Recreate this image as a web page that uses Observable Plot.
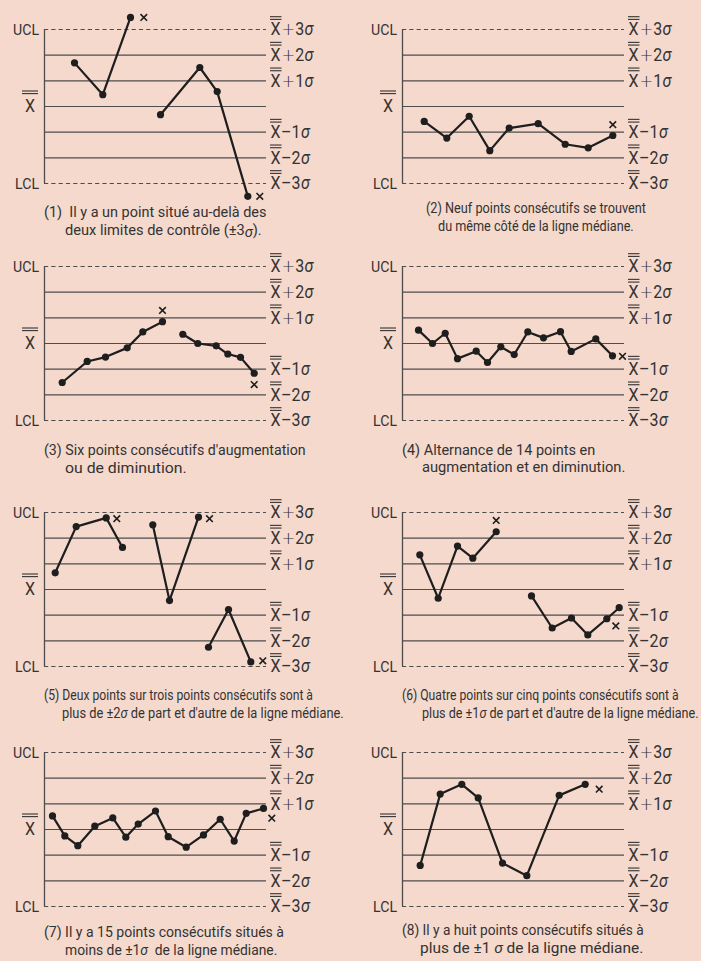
<!DOCTYPE html>
<html><head><meta charset="utf-8">
<script src="https://cdn.jsdelivr.net/npm/d3@7"></script>
<script src="https://cdn.jsdelivr.net/npm/@observablehq/plot@0.6"></script>
<style>
html,body{margin:0;padding:0;background:#f5d9cc;}
#wrap{position:relative;width:701px;height:961px;overflow:hidden;background:#f5d9cc;font-family:Roboto,"Liberation Sans",sans-serif;color:#333;}
.panel{position:absolute;}
.cap{position:absolute;white-space:nowrap;color:#333;line-height:18px;transform-origin:0 0;}
.cap i{font-style:italic;}
.cap .lo{position:relative;top:2px;}
</style></head><body><div id="wrap"></div>
<script>
// ---- data (x = position along the sample axis, y = value in sigma units) ----
const p1x = [30, 58.3, 86, 116, 155.3, 172.7, 203.3];
const p1y = [1.70, 0.46, 3.47, -0.32, 1.52, 0.58, -3.50];
const p1seg = [0, 0, 0, 1, 1, 1, 1];
const p1crossX = [99.3, 215.3];
const p1crossY = [3.47, -3.50];

const p2x = [21.7, 44.3, 66.7, 87.3, 106.7, 135.7, 162.7, 185.7, 210.3];
const p2y = [-0.58, -1.23, -0.38, -1.72, -0.84, -0.67, -1.47, -1.61, -1.13];
const p2seg = [0, 0, 0, 0, 0, 0, 0, 0, 0];
const p2crossX = [210.3];
const p2crossY = [-0.71];

const p3x = [17.7, 42.7, 61, 82.7, 98.3, 118, 138.3, 153.3, 171.7, 183.3, 196, 209.7];
const p3y = [-1.52, -0.70, -0.53, -0.17, 0.45, 0.85, 0.36, 0, -0.09, -0.41, -0.54, -1.16];
const p3seg = [0, 0, 0, 0, 0, 0, 1, 1, 1, 1, 1, 1];
const p3crossX = [118, 209.7];
const p3crossY = [1.29, -1.60];

const p4x = [16, 30, 42.7, 55, 73.7, 85, 98.3, 111.7, 125.3, 141, 158, 168.7, 193.3, 210];
const p4y = [0.52, 0, 0.40, -0.59, -0.30, -0.74, -0.13, -0.43, 0.45, 0.22, 0.46, -0.31, 0.18, -0.48];
const p4seg = [0, 0, 0, 0, 0, 0, 0, 0, 0, 0, 0, 0, 0, 0];
const p4crossX = [220];
const p4crossY = [-0.50];

const p5x = [10.7, 31.7, 61.7, 78, 108.3, 125, 154, 164, 184, 206.3];
const p5y = [0.65, 2.45, 2.79, 1.64, 2.52, -0.43, 2.82, -2.25, -0.78, -2.82];
const p5seg = [0, 0, 0, 0, 1, 1, 1, 2, 2, 2];
const p5crossX = [72.3, 165, 218.3];
const p5crossY = [2.76, 2.76, -2.78];

const p6x = [17.3, 35.7, 55, 70.3, 93.7, 129, 149.7, 169, 185.3, 204.3, 216.7];
const p6y = [1.35, -0.34, 1.69, 1.22, 2.25, -0.25, -1.50, -1.11, -1.77, -1.14, -0.71];
const p6seg = [0, 0, 0, 0, 0, 1, 1, 1, 1, 1, 1];
const p6crossX = [93.7, 213.3];
const p6crossY = [2.69, -1.42];

const p7x = [8, 20.3, 33.3, 50.3, 68.3, 81.3, 93.7, 111, 123.7, 141.7, 159, 175.7, 189.7, 201.7, 219];
const p7y = [0.53, -0.25, -0.63, 0.13, 0.45, -0.30, 0.21, 0.72, -0.28, -0.69, -0.21, 0.40, -0.45, 0.63, 0.82];
const p7seg = [0, 0, 0, 0, 0, 0, 0, 0, 0, 0, 0, 0, 0, 0, 0];
const p7crossX = [227.3];
const p7crossY = [0.44];

const p8x = [17.7, 37.7, 59.3, 75.7, 100, 124.3, 156.7, 182.7];
const p8y = [-1.40, 1.38, 1.76, 1.23, -1.31, -1.80, 1.33, 1.76];
const p8seg = [0, 0, 0, 0, 0, 0, 0, 0];
const p8crossX = [196.7];
const p8crossY = [1.57];

// control-limit levels (sigma units) and their labels
const limitLevels = [3, -3];
const gridLevels = [2, 1, 0, -1, -2];
const rightLevels = [3, 2, 1, -1, -2, -3];
const rightSigns = ["+", "+", "+", "\u2013", "\u2013", "\u2013"];
const rightNums = ["3", "2", "1", "1", "2", "3"];
const leftLabels = ["UCL", "LCL"];
const leftLevels = [3, -3];

const captions = [
  ["(1)\u00a0 Il y a un point situé au-delà des", "deux limites de contrôle (±3<i class='lo'>σ</i>)."],
  ["(2) Neuf points consécutifs se trouvent", "du même côté de la ligne médiane."],
  ["(3) Six points consécutifs d'augmentation", "ou de diminution."],
  ["(4) Alternance de 14 points en", "augmentation et en diminution."],
  ["(5) Deux points sur trois points consécutifs sont à", "plus de ±2<i>σ</i> de part et d'autre de la ligne médiane."],
  ["(6) Quatre points sur cinq points consécutifs sont à", "plus de ±1<i>σ</i> de part et d'autre de la ligne médiane."],
  ["(7) Il y a 15 points consécutifs situés à", "moins de ±1<i>σ</i>\u00a0 de la ligne médiane."],
  ["(8) Il y a huit points consécutifs situés à", "plus de ±1\u00a0<i>σ</i> de la ligne médiane."]
];

// ---- layout ----
const rowUCL = [29, 266.3, 512, 752];
const capBase = [[217, 235.5, 213, 231], [455, 473, 455, 472.5], [700, 718.5, 700, 718.5], [937.5, 955, 935, 953.5]];
const capLeft = [[44.3, 65, 426, 438.3], [44.3, 65, 401.7, 421.7], [44.3, 61.7, 401.7, 421.7], [44.3, 65, 401.7, 420]];
const capWidth = [[222.4, 196.7], [220, 195.7], [261.7, 121.7], [193.3, 203.3], [269, 281.7], [276.7, 276.5], [240, 212.3], [241.7, 223.3]];
const capSize = [15.5, 15.5, 15.5, 15.5, 15, 15, 15.5, 15.5];

const panels = [
  [p1x, p1y, p1seg, p1crossX, p1crossY],
  [p2x, p2y, p2seg, p2crossX, p2crossY],
  [p3x, p3y, p3seg, p3crossX, p3crossY],
  [p4x, p4y, p4seg, p4crossX, p4crossY],
  [p5x, p5y, p5seg, p5crossX, p5crossY],
  [p6x, p6y, p6seg, p6crossX, p6crossY],
  [p7x, p7y, p7seg, p7crossX, p7crossY],
  [p8x, p8y, p8seg, p8crossX, p8crossY]
];

const INK = "#1e1e1e";
const GRID = "#4d4d4d";
const FONT = "Roboto,'Liberation Sans',sans-serif";
const mTop = 22, plotH = 154, mBottom = 22;

// measure a text width to derive a condensing factor (reference face is a condensed sans)
function measure(html, size) {
  const s = document.createElement("span");
  s.style.cssText = `position:absolute;visibility:hidden;white-space:nowrap;font-family:${FONT};font-size:${size}px`;
  s.innerHTML = html;
  document.body.appendChild(s);
  const w = s.getBoundingClientRect().width;
  s.remove();
  return w;
}
const lblScale = Math.min(1, 26 / measure("UCL", 15.5));

function labelsMark(index, scales, values, dims) {
  const g = d3.create("svg:g").attr("fill", "#333").attr("text-anchor", "start");
  const xr = dims.width - dims.marginRight + 4;
  const xl = dims.marginLeft;
  rightLevels.forEach((lv, i) => {
    const y0 = scales.y(lv);
    const t = g.append("text").attr("transform", `translate(${xr + 0.5},${y0 + 6.3}) scale(${lblScale},1)`)
      .attr("font-family", FONT).attr("font-size", 17.5).attr("text-anchor", "start");
    t.append("tspan").text("X");
    const plus = rightSigns[i] === "+";
    t.append("tspan").attr("font-family", plus ? "'DejaVu Sans',sans-serif" : FONT)
      .attr("font-weight", plus ? 200 : 400)
      .attr("font-size", plus ? 18 : 17.5).attr("dx", plus ? 1 : 0.5).text(rightSigns[i]);
    t.append("tspan").text(rightNums[i]);
    t.append("tspan").attr("font-style", "italic").attr("font-size", 17.5).attr("dx", 0.5).text("\u03c3");
    for (const dy of [-12.3, -9.6]) {
      g.append("line").attr("x1", xr).attr("x2", xr + 11.5).attr("y1", y0 + dy).attr("y2", y0 + dy)
        .attr("stroke", "#333").attr("stroke-width", 1.1);
    }
  });
  leftLevels.forEach((lv, i) => {
    g.append("text").attr("transform", `translate(${xl - 5},${scales.y(lv) + 5.5}) scale(${lblScale},1)`)
      .attr("text-anchor", "end").attr("font-family", FONT).attr("font-size", 15.5).text(leftLabels[i]);
  });
  const ym = scales.y(0);
  g.append("text").attr("transform", `translate(${xl - 14},${ym + 5.5}) scale(${lblScale},1)`)
    .attr("text-anchor", "middle").attr("font-family", FONT).attr("font-size", 17.5).text("X");
  for (const dy of [-15, -12.4]) {
    g.append("line").attr("x1", xl - 22).attr("x2", xl - 6).attr("y1", ym + dy).attr("y2", ym + dy)
      .attr("stroke", "#333").attr("stroke-width", 1.1);
  }
  return g.node();
}

const wrap = document.getElementById("wrap");
panels.forEach((p, k) => {
  const row = Math.floor(k / 2), col = k % 2;
  const [xs, ys, segs, cx, cy] = p;
  const pts = xs.map((x, i) => ({x, y: ys[i], seg: segs[i]}));
  const crosses = cx.map((x, i) => ({x, y: cy[i]}));
  const W = col === 0 ? 350 : 351;
  const mL = col === 0 ? 44 : 52;
  const mR = W - mL - 222;
  const chart = Plot.plot({
    width: W,
    height: mTop + plotH + mBottom,
    marginLeft: mL, marginRight: mR, marginTop: mTop, marginBottom: mBottom,
    x: {domain: [0, 222], axis: null},
    y: {domain: [-3, 3], axis: null},
    style: {background: "transparent", overflow: "visible"},
    marks: [
      Plot.ruleY(gridLevels, {stroke: GRID, strokeWidth: 1.2}),
      Plot.ruleY(limitLevels, {stroke: GRID, strokeWidth: 1.2, strokeDasharray: "4.2,3.1"}),
      Plot.ruleX([0], {y1: -3, y2: 3, stroke: GRID, strokeWidth: 1.3}),
      Plot.line(pts, {x: "x", y: "y", z: "seg", stroke: INK, strokeWidth: 2.2, curve: "linear"}),
      Plot.dot(pts, {x: "x", y: "y", r: 3.6, fill: INK, stroke: null}),
      Plot.dot(crosses, {x: "x", y: "y", symbol: "times", r: 3.1, stroke: INK, strokeWidth: 1.6}),
      labelsMark
    ]
  });
  chart.classList.add("panel");
  chart.style.left = (col === 0 ? 0 : 350) + "px";
  chart.style.top = (rowUCL[row] - mTop) + "px";
  wrap.appendChild(chart);
  // caption lines, each condensed to the width it has in the reference
  const cap = captions[k];
  cap.forEach((line, j) => {
    const size = capSize[k];
    const d = document.createElement("div");
    d.className = "cap";
    d.innerHTML = line;
    d.style.fontSize = size + "px";
    d.style.left = capLeft[row][col * 2 + j] + "px";
    d.style.top = (capBase[row][col * 2 + j] - 14.3) + "px";
    const s = capWidth[k][j] / measure(line, size);
    d.style.transform = `scaleX(${s})`;
    wrap.appendChild(d);
  });
});
</script>
</body></html>
